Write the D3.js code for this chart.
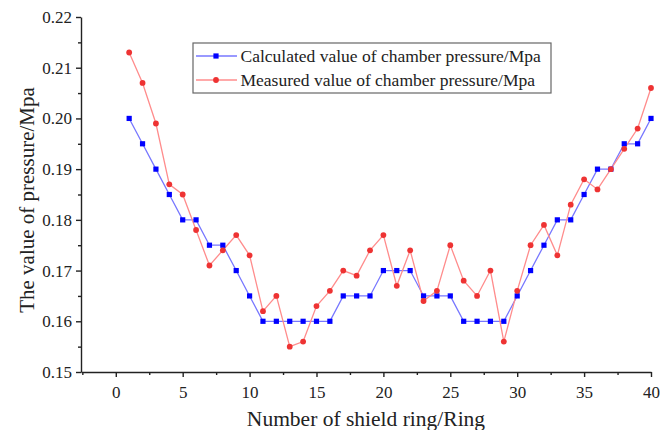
<!DOCTYPE html>
<html>
<head>
<meta charset="utf-8">
<script src="https://cdn.jsdelivr.net/npm/d3@7"></script>
<style>
  body { margin: 0; background: #fff; }
  text { font-family: "Liberation Serif", "Times New Roman", serif; fill: #222; }
  .axis path, .axis line { stroke: #222; stroke-width: 1.4; }
</style>
</head>
<body>
<div id="canvas"></div>
<script>
// Data
var rings = d3.range(1, 41);
var calculated = [0.200, 0.195, 0.190, 0.185, 0.180, 0.180, 0.175, 0.175, 0.170, 0.165,
                  0.160, 0.160, 0.160, 0.160, 0.160, 0.160, 0.165, 0.165, 0.165, 0.170,
                  0.170, 0.170, 0.165, 0.165, 0.165, 0.160, 0.160, 0.160, 0.160, 0.165,
                  0.170, 0.175, 0.180, 0.180, 0.185, 0.190, 0.190, 0.195, 0.195, 0.200];
var measured = [0.213, 0.207, 0.199, 0.187, 0.185, 0.178, 0.171, 0.174, 0.177, 0.173,
                0.162, 0.165, 0.155, 0.156, 0.163, 0.166, 0.170, 0.169, 0.174, 0.177,
                0.167, 0.174, 0.164, 0.166, 0.175, 0.168, 0.165, 0.170, 0.156, 0.166,
                0.175, 0.179, 0.173, 0.183, 0.188, 0.186, 0.190, 0.194, 0.198, 0.206];
var xTicks = [0, 5, 10, 15, 20, 25, 30, 35, 40];
var yTicks = [0.15, 0.16, 0.17, 0.18, 0.19, 0.20, 0.21, 0.22];
var seriesNames = ['Calculated value of chamber pressure/Mpa',
                   'Measured value of chamber pressure/Mpa'];

var W = 670, H = 430;
var m = {t: 17, r: 19, b: 58, l: 81},
    w = W - m.l - m.r,
    h = H - m.t - m.b;

var svg = d3.select('#canvas').append('svg')
  .attr('width', W)
  .attr('height', H);

var plot = svg.append('g')
  .attr('transform', 'translate(' + m.l + ',' + m.t + ')');

// Scales
var x = d3.scaleLinear().domain([-2.6, 40]).range([0, w]);
var y = d3.scaleLinear().domain([0.15, 0.22]).range([h, 0]);

// Minor ticks
var xMinor = d3.range(-2.5, 40.1, 5);
var yMinor = d3.range(0.155, 0.22, 0.01);

plot.append('g').attr('class', 'axis')
  .attr('transform', 'translate(0,' + h + ')')
  .call(d3.axisBottom(x).tickValues(xMinor).tickSize(3).tickFormat(''))
  .select('.domain').remove();
plot.append('g').attr('class', 'axis')
  .call(d3.axisLeft(y).tickValues(yMinor).tickSize(3).tickFormat(''))
  .select('.domain').remove();

var xAxis = plot.append('g').attr('class', 'axis')
  .attr('transform', 'translate(0,' + h + ')')
  .call(d3.axisBottom(x).tickValues(xTicks).tickSize(5).tickSizeOuter(0).tickPadding(9));
xAxis.selectAll('text').style('font-size', '17px');

var yAxis = plot.append('g').attr('class', 'axis')
  .call(d3.axisLeft(y).tickValues(yTicks).tickSize(5).tickSizeOuter(0).tickPadding(4)
    .tickFormat(d3.format('.2f')));
yAxis.selectAll('text').style('font-size', '17px');

// Axis titles
svg.append('text')
  .attr('x', 366)
  .attr('y', 426)
  .style('text-anchor', 'middle')
  .style('font-size', '21.5px')
  .text('Number of shield ring/Ring');

svg.append('text')
  .attr('transform', 'translate(34,' + 200 + ') rotate(-90)')
  .style('text-anchor', 'middle')
  .style('font-size', '21px')
  .text('The value of pressure/Mpa');

// Lines
var line = d3.line()
  .x(function(d, i) { return x(rings[i]); })
  .y(function(d) { return y(d); });

plot.append('path')
  .datum(calculated)
  .attr('d', line)
  .attr('fill', 'none')
  .attr('stroke', '#7777ff')
  .attr('stroke-width', 1.3);

plot.append('path')
  .datum(measured)
  .attr('d', line)
  .attr('fill', 'none')
  .attr('stroke', '#ff8c8c')
  .attr('stroke-width', 1.3);

plot.selectAll('.sq').data(calculated).enter()
  .append('rect')
  .attr('class', 'sq')
  .attr('x', function(d, i) { return x(rings[i]) - 2.6; })
  .attr('y', function(d) { return y(d) - 2.6; })
  .attr('width', 5.2)
  .attr('height', 5.2)
  .attr('fill', '#0000ff');

plot.selectAll('.dot').data(measured).enter()
  .append('circle')
  .attr('class', 'dot')
  .attr('cx', function(d, i) { return x(rings[i]); })
  .attr('cy', function(d) { return y(d); })
  .attr('r', 2.9)
  .attr('fill', '#ee3333');

// Legend
var legend = svg.append('g').attr('transform', 'translate(193,43)');
legend.append('rect')
  .attr('width', 358)
  .attr('height', 50)
  .attr('fill', '#fff')
  .attr('stroke', '#666')
  .attr('stroke-width', 1.2);

var lc = ['#7777ff', '#ff8c8c'];
seriesNames.forEach(function(name, i) {
  var ly = 13 + i * 24;
  legend.append('line')
    .attr('x1', 3).attr('x2', 44)
    .attr('y1', ly).attr('y2', ly)
    .attr('stroke', lc[i]).attr('stroke-width', 1.3);
  if (i == 0) {
    legend.append('rect')
      .attr('x', 23 - 2.6).attr('y', ly - 2.6)
      .attr('width', 5.2).attr('height', 5.2)
      .attr('fill', '#0000ff');
  } else {
    legend.append('circle')
      .attr('cx', 23).attr('cy', ly).attr('r', 2.9)
      .attr('fill', '#ee3333');
  }
  legend.append('text')
    .attr('x', 47.5)
    .attr('y', ly + 5.5)
    .style('font-size', '17.5px')
    .text(name);
});
</script>
</body>
</html>
